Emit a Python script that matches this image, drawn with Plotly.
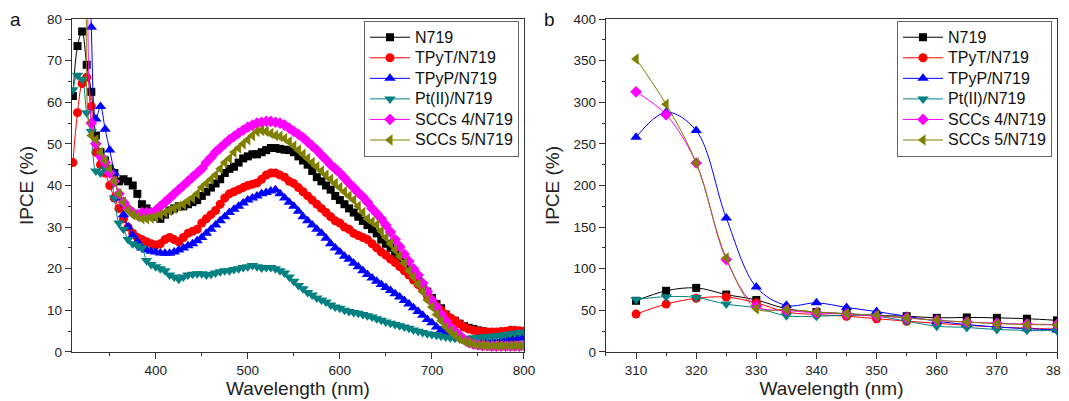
import plotly.graph_objects as go

# wavelength grid (nm), 310 ... 800 every 5 nm
wavelength = list(range(310, 805, 5))

names = ["N719", "TPyT/N719", "TPyP/N719", "Pt(II)/N719", "SCCs 4/N719", "SCCs 5/N719"]

n719 = [61.5, 73.5, 77, 69, 62.5, 52, 48, 46, 44, 43,
        41, 41.5, 41, 40, 38, 35.5, 34.5, 33.5, 32.5, 32,
        33, 34, 34.5, 35, 35, 35.5, 36, 36.5, 37.5, 38.5,
        39.5, 40.5, 41.5, 43, 44, 44.5, 45.5, 46.5, 47, 47.5,
        47.5, 48, 48.5, 49, 49, 48.8, 48.6, 48.5, 48, 47,
        46, 45, 43.5, 42, 41, 40, 39, 37.5, 36.5, 35.5,
        34.5, 33.5, 32.5, 31.5, 30.5, 29.5, 28.5, 27, 26, 25,
        23.5, 22.5, 21.5, 20, 18.5, 17.5, 16, 14.5, 13, 11.5,
        10.5, 9, 8, 7.5, 6.8, 6.2, 5.8, 5.5, 5.2, 5,
        4.8, 4.6, 4.5, 4.5, 4.5, 4.5, 4.4, 4.3, 4.2]

tpyt = [45.5, 57.5, 64.5, 66, 59, 48, 45, 43, 40, 37,
        34.5, 32, 30, 28.5, 27.5, 27, 26.5, 26, 25.7, 26,
        27, 27.5, 27, 26.5, 27.5, 28.5, 29, 29.5, 31, 32,
        33, 34, 35.5, 37, 38, 38.5, 39, 39.5, 40, 40.3,
        40.6, 41.5, 42.5, 43, 43, 42.5, 42, 41, 40.5, 39.5,
        38.5, 37.5, 36.5, 35.5, 34.5, 33.5, 32.5, 31.5, 31, 30,
        29.5, 28.5, 28, 27.5, 27, 26, 25, 24, 23.3, 22.3,
        21.5, 20.5, 19.5, 18.5, 17.3, 16.2, 15, 13.5, 12.3, 11,
        10, 9, 8.2, 7.5, 6.7, 6, 5.5, 5.2, 5, 4.9,
        4.8, 4.8, 4.8, 4.9, 5, 5.2, 5.2, 5.1, 5]

tpyp = [258, 288, 266, 161, 78, 56, 59, 53.5, 48.5, 43,
        37, 33, 30, 28, 26.5, 25, 24.5, 24.2, 24, 23.8,
        23.7, 23.7, 24, 24.5, 25, 25.5, 26, 26.7, 27.5, 28.5,
        29.5, 30.5, 31.5, 32.5, 33.5, 34.3, 35, 35.8, 36.5, 37,
        37.5, 38, 38.3, 38.7, 39, 38, 37, 36, 35, 33.8,
        32.5, 31.5, 30.5, 29.5, 28.5, 27.3, 26, 25, 24, 23,
        22.3, 21.3, 20.5, 19.5, 18.6, 17.8, 17, 16.2, 15.5, 14.8,
        14, 13.2, 12.4, 11.5, 10.6, 9.7, 8.8, 7.8, 7, 6,
        5.2, 4.5, 4, 3.5, 3.2, 3, 2.7, 2.5, 2.5, 2.5,
        2.5, 2.5, 2.6, 2.7, 2.8, 3, 3.1, 3.3, 3.5]

pt = [63, 66.5, 65.5, 57.5, 53, 43.5, 43, 44, 43, 37,
      31, 29.5, 27, 26, 25.5, 25, 22, 21, 20.5, 20,
      19.5, 18.5, 18, 17.5, 18, 18.5, 18.7, 18.8, 18.8, 18.5,
      18.7, 19, 19.3, 19.5, 19.5, 19.8, 20, 20.3, 20.5, 20.8,
      20.5, 20.2, 20.3, 20.3, 20, 19.5, 19, 18, 17, 16,
      15.2, 14.3, 13.7, 13, 12.5, 12, 11.3, 10.8, 10.5, 10,
      9.7, 9.5, 9.3, 9, 8.7, 8.4, 8, 7.6, 7.2, 6.9,
      6.6, 6.3, 6, 5.7, 5.3, 5, 4.7, 4.4, 4.2, 4,
      3.8, 3.6, 3.4, 3.3, 3.2, 3.2, 3.3, 3.4, 3.5, 3.6,
      3.7, 3.8, 3.9, 4, 4.2, 4.4, 4.5, 4.7, 4.8]

sccs4 = [312.5, 285, 227, 111, 55, 50, 47, 45.5, 43, 41,
         38, 36, 34.5, 33.5, 33, 33.5, 33.5, 33.5, 34, 35,
         36, 37, 38, 39, 40, 41, 42, 43, 44, 45.5,
         46.7, 48, 49, 50, 51, 51.8, 52.6, 53.3, 54, 54.5,
         55, 55.2, 55.4, 55.4, 55.2, 55, 54.5, 53.8, 53, 52.3,
         51.5, 50.5, 49.5, 48.5, 47.3, 46.2, 45, 44, 43, 41.8,
         40.6, 39.5, 38.3, 37.3, 36, 34.5, 33.3, 32, 30.5, 28.8,
         27, 25.3, 23.5, 21.8, 20, 18.5, 16.5, 14.5, 12.5, 10.8,
         9, 7.5, 6, 5, 4, 3, 2.3, 1.9, 1.7, 1.5,
         1.5, 1.4, 1.4, 1.4, 1.4, 1.4, 1.4, 1.4, 1.5]

sccs5 = [352, 297.5, 227, 113, 52, 51, 48, 46, 44, 41,
         38, 36, 34, 33, 32.5, 32, 32, 32.2, 32.5, 33,
         33.5, 34, 34.5, 35, 35.5, 36.3, 37, 38, 39.5, 40.5,
         41.5, 42.5, 44, 45.5, 46.5, 48, 49, 50, 51, 52,
         53, 53.2, 53, 52.5, 52, 51.8, 51.3, 50.5, 49.5, 48.5,
         47.5, 46.5, 45.5, 44.5, 43.5, 42.5, 41.5, 40.5, 39.5, 38.5,
         37.5, 36.5, 35, 33.5, 32, 31.3, 30.5, 29, 27.5, 26,
         24.5, 23, 21.3, 19.5, 18, 16.3, 14.5, 12.5, 10.8, 9,
         7.5, 6, 5, 4, 3.2, 2.6, 2.2, 1.9, 1.7, 1.6,
         1.5, 1.5, 1.5, 1.5, 1.5, 1.5, 1.5, 1.5, 1.5]

series = [n719, tpyt, tpyp, pt, sccs4, sccs5]
colors = ["#000000", "#ff0000", "#0000ff", "#008080", "#ff00ff", "#808000"]
symbols = ["square", "circle", "triangle-up", "triangle-down", "diamond", "triangle-left"]
sizes = [8, 9, 10, 10, 9, 10]

# panel b shows the short-wavelength part (310-380 nm)
n_b = 15


def label(name):
    # bigger text than the legend's row height would normally allow
    return '<span style="font-size:16px">%s</span>' % name


fig = go.Figure()
for name, ys, c, s, sz in zip(names, series, colors, symbols, sizes):
    fig.add_trace(go.Scatter(
        x=wavelength, y=ys, name=label(name), mode="lines+markers",
        line=dict(color=c, width=1, shape="spline"),
        marker=dict(symbol=s, size=sz, color=c, line=dict(width=0)),
        xaxis="x", yaxis="y", legend="legend"))
for name, ys, c, s, sz in zip(names, series, colors, symbols, sizes):
    fig.add_trace(go.Scatter(
        x=wavelength[:n_b], y=ys[:n_b], name=label(name), mode="lines+markers",
        line=dict(color=c, width=1, shape="spline"),
        marker=dict(symbol=s, size=sz, color=c, line=dict(width=0)),
        xaxis="x2", yaxis="y2", legend="legend2"))

font = "Arial, Liberation Sans, sans-serif"
axis_style = dict(showline=True, linecolor="#333", linewidth=1.3, mirror=True,
                  ticks="outside", ticklen=6, tickcolor="#333", tickwidth=1.2,
                  showgrid=False, zeroline=False, automargin=False,
                  tickfont=dict(family=font, size=13.5, color="#222"))
title_font = dict(family=font, size=19, color="#222")
legend_style = dict(bgcolor="rgba(255,255,255,0)", bordercolor="#666", borderwidth=1,
                    font=dict(family=font, size=13.5, color="#111"),
                    xanchor="right", yanchor="top", y=0.967,
                    tracegroupgap=0, itemwidth=40)

# page body has an 8px margin, so the figure is 8px smaller than the window
fig.update_layout(
    width=1061, height=393,
    margin=dict(l=0, r=0, t=0, b=0, autoexpand=False),
    paper_bgcolor="white", plot_bgcolor="white",
    xaxis=dict(domain=[0.0603, 0.4863], range=[309, 800], tick0=400, dtick=100,
               minor=dict(ticks="outside", ticklen=3, dtick=50, tick0=350, tickcolor="#333"),
               title=dict(text="Wavelength (nm)", font=title_font, standoff=4),
               anchor="y", **axis_style),
    yaxis=dict(domain=[0.1247, 0.9720], range=[0, 80], dtick=10,
               minor=dict(ticks="outside", ticklen=3, dtick=5, tickcolor="#333"),
               title=dict(text="IPCE (%)", font=title_font, standoff=8),
               anchor="x", **axis_style),
    xaxis2=dict(domain=[0.5636, 0.9887], range=[305, 380], tick0=310, dtick=10,
                minor=dict(ticks="outside", ticklen=3, dtick=5, tick0=305, tickcolor="#333"),
                title=dict(text="Wavelength (nm)", font=title_font, standoff=4),
                anchor="y2", **axis_style),
    yaxis2=dict(domain=[0.1247, 0.9720], range=[0, 400], dtick=50,
                minor=dict(ticks="outside", ticklen=3, dtick=25, tickcolor="#333"),
                title=dict(text="IPCE (%)", font=title_font, standoff=8),
                anchor="x2", **axis_style),
    legend=dict(x=0.4816, **legend_style),
    legend2=dict(x=0.9840, **legend_style),
    annotations=[
        dict(text="a", x=0.0066, y=0.9695, xref="paper", yref="paper", showarrow=False,
             xanchor="center", yanchor="middle",
             font=dict(family=font, size=19, color="#111")),
        dict(text="b", x=0.5108, y=0.9695, xref="paper", yref="paper", showarrow=False,
             xanchor="center", yanchor="middle",
             font=dict(family=font, size=19, color="#111")),
    ],
)

fig.write_html("out.html")
